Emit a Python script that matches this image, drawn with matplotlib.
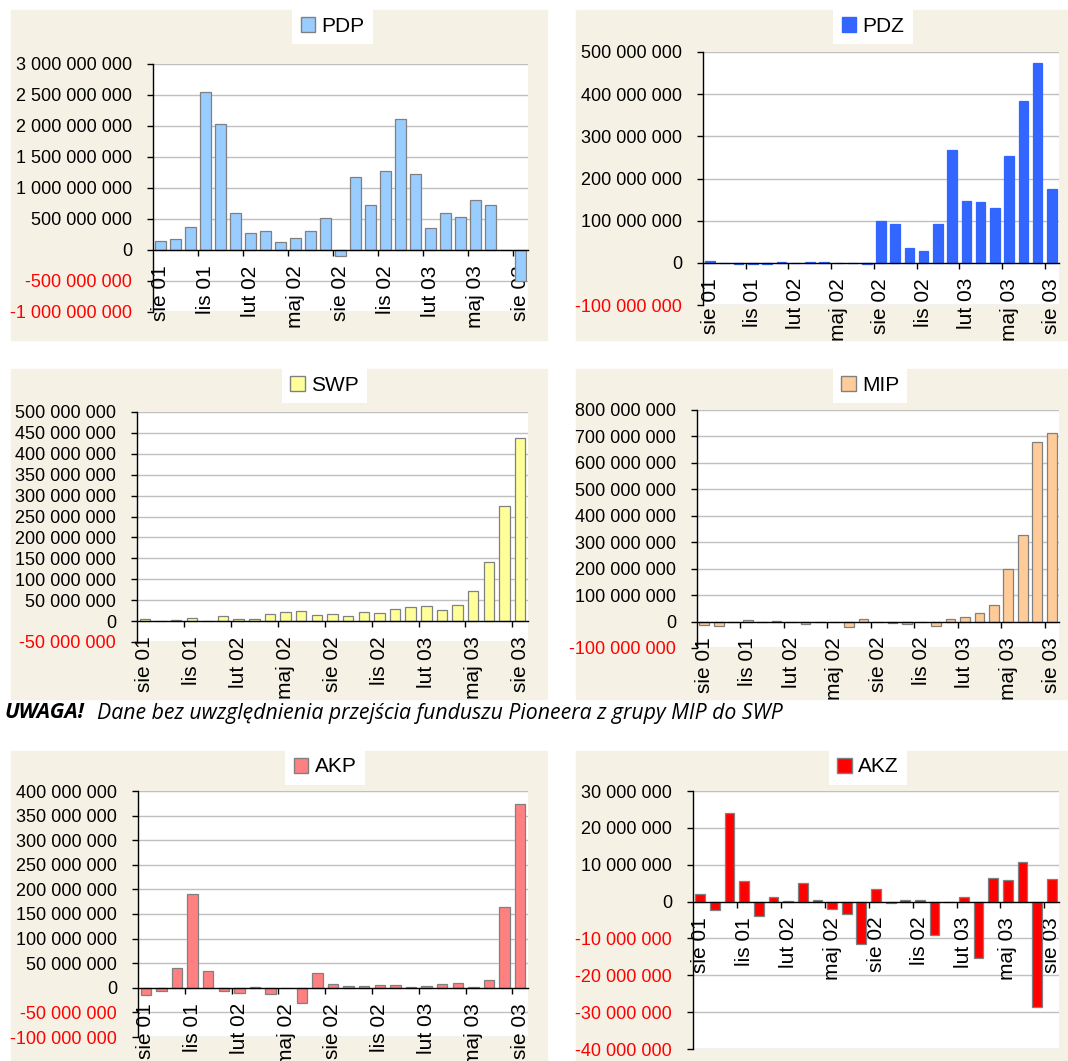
import matplotlib.pyplot as plt
from matplotlib.patches import Rectangle, Patch
import numpy as np

plt.rcParams['font.family'] = ['Liberation Sans', 'DejaVu Sans']

# months sie 01 .. sie 03 (25 values), values in mln PLN
months = ['sie 01', 'wrz 01', 'paź 01', 'lis 01', 'gru 01', 'sty 02', 'lut 02',
          'mar 02', 'kwi 02', 'maj 02', 'cze 02', 'lip 02', 'sie 02', 'wrz 02',
          'paź 02', 'lis 02', 'gru 02', 'sty 03', 'lut 03', 'mar 03', 'kwi 03',
          'maj 03', 'cze 03', 'lip 03', 'sie 03']

pdp = [150, 180, 370, 2550, 2030, 600, 270, 300, 130, 190, 300, 520, -100,
       1180, 720, 1270, 2120, 1220, 350, 600, 540, 800, 730, 0, -500]
pdz = [5, 0, -2, -2, -2, 1, -1, 2, 3, -1, -1, -2, 100, 92, 35, 27, 91, 268,
       147, 144, 130, 253, 384, 475, 175]
swp = [6, 1, 2, 8, 1, 13, 4, 6, 18, 21, 25, 14, 16, 13, 22, 20, 30, 33, 35,
       27, 39, 73, 141, 275, 439]
mip = [-13, -15, -2, 6, 0, 3, -3, -8, -3, -2, -20, 8, -1, -6, -8, -1, -17, 10,
       19, 34, 62, 199, 327, 678, 712]
akp = [-14, -7, 40, 190, 35, -7, -11, 2, -13, -1, -30, 30, 7, 4, 4, 5, 5, 1,
       4, 7, 9, 1, 15, 165, 373]
akz = [2.1, -2.4, 24.1, 5.7, -4.0, 1.3, 0.1, 5.1, 0.3, -2.0, -3.4, -11.5, 3.4,
       -0.3, 0.4, 0.5, -9.1, 0, 1.3, -15.2, 6.3, 5.8, 10.8, -28.5, 6.1]

W, H = 1068, 1061
fig = plt.figure(figsize=(W / 100, H / 100), dpi=100)
BEIGE = '#F5F1E5'

# beige panel backgrounds (pixel boxes: left, top, right, bottom)
for l, t, r, b in [(11, 10, 547, 340), (576, 10, 1068, 340),
                   (11, 369, 547, 699), (576, 369, 1068, 699),
                   (11, 751, 547, 1061), (576, 751, 1068, 1061)]:
    fig.patches.append(Rectangle((l / W, 1 - b / H), (r - l) / W, (b - t) / H,
                                 transform=fig.transFigure, color=BEIGE, zorder=-10))


def fmt(v):
    return f"{v:,.0f}".replace(",", " ")


def chart(name, vals, color, edge, box, ylo, yhi, ystep, leg_y):
    l, t, r, b = box
    ax = fig.add_axes([l / W, 1 - b / H, (r - l) / W, (b - t) / H])
    x = np.arange(len(vals))
    v = np.array(vals) * 1e6
    ax.bar(x, v, width=0.667, color=color, edgecolor=edge, linewidth=0.9, zorder=2)
    ax.set_xlim(-0.5, len(vals) - 0.5)
    ax.set_ylim(ylo, yhi)
    yt = np.arange(ylo, yhi + ystep / 2, ystep)
    ax.set_yticks(yt)
    ax.set_yticklabels([fmt(y) for y in yt], fontsize=13)
    for lab, y in zip(ax.get_yticklabels(), yt):
        lab.set_color('red' if y < 0 else 'black')
    for y in yt:
        if y != 0:
            ax.axhline(y, color='#C0C0C0', lw=1, zorder=0.5)
    ax.tick_params(axis='y', length=4, width=1, pad=11)
    for s in ['top', 'right']:
        ax.spines[s].set_visible(False)
    ax.spines['bottom'].set_position(('data', 0))
    ax.spines['left'].set_linewidth(1)
    ax.spines['bottom'].set_linewidth(1)
    ax.set_xticks(x[::3])
    ax.set_xticklabels(months[::3], rotation=90, fontsize=15, va='top', ha='center')
    ax.set_xticks(np.arange(2.5, len(vals) - 1, 3), minor=True)
    ax.tick_params(axis='x', which='major', length=0, pad=11)
    ax.tick_params(axis='x', which='minor', length=4, width=1, direction='out')
    cx = (l + r) / 2 - 8
    ax.legend(handles=[Patch(facecolor=color, edgecolor=edge)], labels=[name],
              loc='center', bbox_to_anchor=(cx / W, 1 - leg_y / H),
              bbox_transform=fig.transFigure, fontsize=15, frameon=True,
              facecolor='white', edgecolor='none', fancybox=False,
              handlelength=0.7, handleheight=0.7, handletextpad=0.3,
              borderpad=0.4, framealpha=1)
    return ax


chart('PDP', pdp, '#99CCFF', '#808080', (153, 64, 528, 312), -1e9, 3e9, 5e8, 26.5)
chart('PDZ', pdz, '#3366FF', '#3366FF', (703, 52, 1059, 305), -1e8, 5e8, 1e8, 26.5)
chart('SWP', swp, '#FFFF99', '#808080', (137, 412, 528, 642), -5e7, 5e8, 5e7, 385.5)
chart('MIP', mip, '#FFCC99', '#808080', (697, 410, 1059, 648), -1e8, 8e8, 1e8, 385.5)
chart('AKP', akp, '#FF8080', '#808080', (138, 791, 528, 1037), -1e8, 4e8, 5e7, 767)
chart('AKZ', akz, '#FF0000', '#808080', (693, 791, 1059, 1049), -4e7, 3e7, 1e7, 767)

fig.text(5 / W, 1 - 713 / H, 'UWAGA!', fontsize=15.3, fontweight='bold',
         style='italic', family='Open Sans', va='center')
fig.text(97 / W, 1 - 713 / H,
         'Dane bez uwzględnienia przejścia funduszu Pioneera z grupy MIP do SWP',
         fontsize=15.3, style='italic', family='Open Sans', va='center')

fig.savefig('out.png', dpi=100, facecolor='white')
